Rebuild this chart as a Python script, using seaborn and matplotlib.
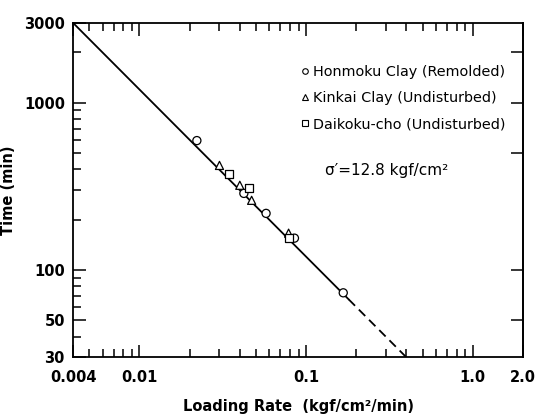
#!/usr/bin/env python3
import matplotlib

matplotlib.use("Agg")

import matplotlib.pyplot as plt
import matplotlib.ticker as mticker
import pandas as pd
import seaborn as sns

sns.set_theme(style="ticks")
plt.rcParams["font.family"] = ["DejaVu Sans"]
plt.rcParams.update({"text.color": "black", "axes.labelcolor": "black",
                     "xtick.color": "black", "ytick.color": "black",
                     "axes.edgecolor": "black"})

# Data
honmoku_rate = [0.0221, 0.0423, 0.0575, 0.0851, 0.167]
honmoku_time = [594, 287, 218, 155, 73]
kinkai_rate = [0.0302, 0.0400, 0.0471, 0.0785]
kinkai_time = [422, 321, 261, 166]
daikoku_rate = [0.0345, 0.0452, 0.0785]
daikoku_time = [373, 308, 155]

soils = [
    "Honmoku Clay (Remolded)",
    "Kinkai Clay (Undisturbed)",
    "Daikoku-cho (Undisturbed)",
]

# fitted line, solid part then dashed extrapolation
fit_rate = [0.004, 0.18]
fit_time = [3000, 66.7]
ext_rate = [0.18, 0.40]
ext_time = [66.7, 30]

x_ticks = [0.004, 0.01, 0.1, 1.0, 2.0]
x_labels = ["0.004", "0.01", "0.1", "1.0", "2.0"]
y_ticks = [30, 50, 100, 1000, 3000]
y_labels = ["30", "50", "100", "1000", "3000"]

df = pd.concat(
    [
        pd.DataFrame({"rate": honmoku_rate, "time": honmoku_time, "soil": soils[0]}),
        pd.DataFrame({"rate": kinkai_rate, "time": kinkai_time, "soil": soils[1]}),
        pd.DataFrame({"rate": daikoku_rate, "time": daikoku_time, "soil": soils[2]}),
    ],
    ignore_index=True,
)

fig = plt.figure(figsize=(5.38, 4.18), dpi=100)
ax = fig.add_axes([0.136, 0.145, 0.836, 0.80])

ax.set_xscale("log")
ax.set_yscale("log")

sns.lineplot(x=fit_rate, y=fit_time, ax=ax, color="black", lw=1.3)
sns.lineplot(x=ext_rate, y=ext_time, ax=ax, color="black", lw=1.3,
             linestyle=(0, (5, 3)))

markers = {soils[0]: "o", soils[1]: "^", soils[2]: "s"}
sns.scatterplot(data=df, x="rate", y="time", style="soil", markers=markers,
                ax=ax, color="white", edgecolor="black", linewidth=0.9,
                s=34, zorder=3, legend=False)

ax.set_xlim(0.004, 2.0)
ax.set_ylim(30, 3000)

ax.xaxis.set_major_locator(mticker.FixedLocator(x_ticks))
ax.xaxis.set_major_formatter(mticker.FixedFormatter(x_labels))
ax.xaxis.set_minor_locator(mticker.LogLocator(base=10, subs=range(2, 10), numticks=20))
ax.xaxis.set_minor_formatter(mticker.NullFormatter())
ax.yaxis.set_major_locator(mticker.FixedLocator(y_ticks))
ax.yaxis.set_major_formatter(mticker.FixedFormatter(y_labels))
ax.yaxis.set_minor_locator(mticker.LogLocator(base=10, subs=range(2, 10), numticks=20))
ax.yaxis.set_minor_formatter(mticker.NullFormatter())

ax.tick_params(which="both", direction="in", top=True, right=False, width=1.1)
ax.tick_params(which="major", length=9, labelsize=10.5, pad=6)
ax.tick_params(which="minor", length=6)
ax.tick_params(axis="x", which="major", pad=9)
for lab in ax.get_xticklabels() + ax.get_yticklabels():
    lab.set_fontweight("bold")

# right side only carries a few ticks
sec = ax.secondary_yaxis("right")
sec.set_yticks([50, 100, 500, 1000, 2000])
sec.yaxis.set_minor_locator(mticker.NullLocator())
sec.tick_params(direction="in", length=9, width=1.1, labelright=False)

for sp in ax.spines.values():
    sp.set_linewidth(1.3)
sec.spines["right"].set_linewidth(1.3)

ax.set_xlabel("Loading Rate  (kgf/cm²/min)", fontsize=10.5, fontweight="bold", labelpad=10)
ax.set_ylabel("Time (min)", fontsize=10.5, fontweight="bold", labelpad=6)

handles = [
    plt.Line2D([], [], marker=markers[s], ls="none", mfc="white", mec="black",
               mew=0.8, ms=4)
    for s in soils
]
ax.legend(handles, soils, loc="upper left", bbox_to_anchor=(0.505, 0.875),
          frameon=False, fontsize=10.4, handlelength=0.6, handletextpad=0.3,
          labelspacing=0.85, borderpad=0, borderaxespad=0)

ax.text(0.56, 0.56, "σ′=12.8 kgf/cm²", transform=ax.transAxes,
        fontsize=11, va="center", ha="left")

fig.savefig("out.png", dpi=100)
plt.close(fig)
